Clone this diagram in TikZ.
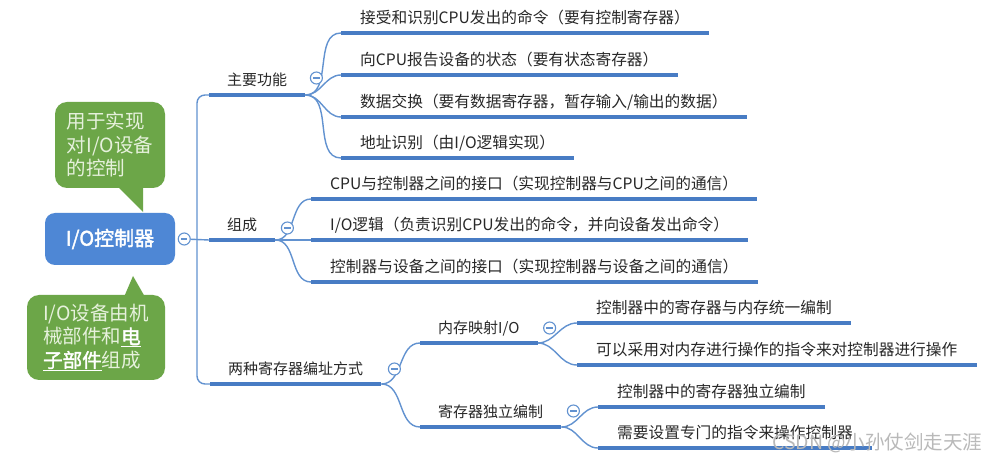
\documentclass[tikz,border=0pt]{standalone}
\usepackage{fontspec}
\setmainfont{Noto Sans CJK SC}[AutoFakeBold=2]
\usepackage{tikz}
\usetikzlibrary{positioning}

\definecolor{rootblue}{RGB}{78,135,213}
\definecolor{notegreen}{RGB}{108,166,72}
\definecolor{notetext}{RGB}{230,241,220}
\definecolor{ulc}{RGB}{72,124,196}
\definecolor{lnc}{RGB}{98,146,208}
\definecolor{txt}{RGB}{40,40,40}

\begin{document}
\begin{tikzpicture}[x=1pt, y=-1pt,
        topic/.style={anchor=south west, inner xsep=18pt, inner ysep=6pt, text height=11pt, text depth=3pt, text=txt, font=\fontsize{15}{18}\selectfont},
        leaf/.style={topic, inner xsep=19pt, font=\fontsize{15.7}{18}\selectfont},
        uline/.style={draw=ulc, line width=3.6pt},
        link/.style={draw=lnc, line width=1.4pt},
        fold/.style={circle, draw=lnc, line width=1.1pt, fill=white, minimum size=12pt, inner sep=0pt,
            path picture={\draw[lnc, line width=1.1pt] ([xshift=-3.2pt]path picture bounding box.center) -- ([xshift=3.2pt]path picture bounding box.center);}},
        note/.style={fill=notegreen, rounded corners=12pt, text=notetext, align=left, inner sep=0pt, font=\fontsize{19.5}{23.5}\selectfont}]
        \useasboundingbox (0,0) rectangle (994,462);
        \fill[white] (0,0) rectangle (994,462);

        % Root and notes
        \node (root) [fill=rootblue, rounded corners=10pt, minimum width=130pt, minimum height=52pt, text=white, font=\fontsize{20}{24}\selectfont\bfseries] at (110,239) {I/O控制器};
        \node (rootf) [fold, right=2.5pt of root] {};
        \node (tn) [note, minimum width=110pt, minimum height=86pt] at (110,145) {用于实现\\对I/O设备\\的控制};
        \fill[notegreen] (117,186) -- (143,212) -- (143,186) -- cycle;
        \node (bn) [note, minimum width=138pt, minimum height=85pt] at (96,337.5) {I/O设备由机\\械部件和{\color{white}\bfseries\underline{电}}\\{\color{white}\bfseries\underline{子部件}}组成};
        \fill[notegreen] (124,297) -- (133,276) -- (145,297) -- cycle;

        % Main branches
        \coordinate (trunk) at (197,240);
        \node (fn) [topic] at (209,95) {主要功能};
        \node (comp) [topic] at (209,240) {组成};
        \node (addr) [topic] at (210,384) {两种寄存器编址方式};

        % Functions
        \node (f1) [leaf] at (341,33) {接受和识别CPU发出的命令（要有控制寄存器）};
        \node (f2) [leaf] at (341,75) {向CPU报告设备的状态（要有状态寄存器）};
        \node (f3) [leaf] at (341,117) {数据交换（要有数据寄存器，暂存输入/输出的数据）};
        \node (f4) [leaf] at (341,158) {地址识别（由I/O逻辑实现）};

        % Parts
        \node (c1) [leaf] at (311,199) {CPU与控制器之间的接口（实现控制器与CPU之间的通信）};
        \node (c2) [leaf] at (311,240) {I/O逻辑（负责识别CPU发出的命令，并向设备发出命令）};
        \node (c3) [leaf] at (311,282) {控制器与设备之间的接口（实现控制器与设备之间的通信）};

        % Addressing
        \node (mm) [topic] at (420,343) {内存映射I/O};
        \node (ind) [topic] at (420,427) {寄存器独立编制};
        \node (m1) [leaf] at (577,323) {控制器中的寄存器与内存统一编制};
        \node (m2) [leaf] at (577,365) {可以采用对内存进行操作的指令来对控制器进行操作};
        \node (i1) [leaf] at (598,407) {控制器中的寄存器独立编制};
        \node (i2) [leaf] at (598,448) {需要设置专门的指令来操作控制器};

        % Links
        \draw[link, rounded corners=8pt] (fn.south west) -| (trunk) |- (addr.south west);
        \draw[link] (rootf) -- (comp.south west);
        \foreach \c in {f1,f2,f3,f4} \draw[link] (fn.south east) to[out=0, in=180] (\c.south west);
        \foreach \c in {c1,c2,c3} \draw[link] (comp.south east) to[out=0, in=180] (\c.south west);
        \foreach \c in {mm,ind} \draw[link] (addr.south east) to[out=0, in=180] (\c.south west);
        \foreach \c in {m1,m2} \draw[link] (mm.south east) to[out=0, in=180] (\c.south west);
        \foreach \c in {i1,i2} \draw[link] (ind.south east) to[out=0, in=180] (\c.south west);

        % Underlines
        \foreach \n in {fn,comp,addr,f1,f2,f3,f4,c1,c2,c3,mm,ind,m1,m2,i1,i2}
            \draw[uline] (\n.south west) -- (\n.south east);

        % Fold marks
        \node (fnf) [fold] at ([xshift=11pt, yshift=17pt]fn.south east) {};
        \node (compf) [fold] at ([xshift=12pt, yshift=12pt]comp.south east) {};
        \node (addrf) [fold] at ([xshift=13pt, yshift=15pt]addr.south east) {};
        \node (mmf) [fold] at ([xshift=12pt, yshift=15pt]mm.south east) {};
        \node (indf) [fold] at ([xshift=12pt, yshift=16pt]ind.south east) {};

        % Watermark
        \node (mark) [anchor=east, text=gray!55, font=\fontsize{19.5}{22}\selectfont] at (986,443) {CSDN @小孙仗剑走天涯};
    \end{tikzpicture}
\end{document}
